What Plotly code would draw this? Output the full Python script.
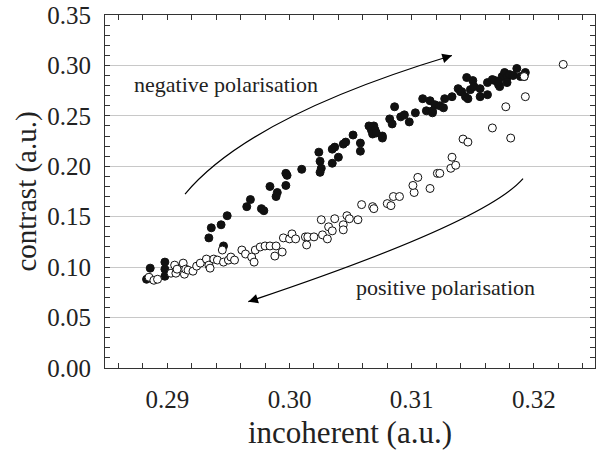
import plotly.graph_objects as go

# negative polarisation (filled circles)
neg_x = [0.2883, 0.2886, 0.2898, 0.2898, 0.2898, 0.2934, 0.2936, 0.2944, 0.2946, 0.2949,
         0.2965, 0.2968, 0.2977, 0.2979, 0.2984, 0.2990, 0.2989, 0.2997, 0.2998, 0.2997,
         0.3010, 0.3024, 0.3025, 0.3026, 0.3025, 0.3035, 0.3037, 0.3035, 0.3040, 0.3044,
         0.3046, 0.3052, 0.3058, 0.3058, 0.3065, 0.3067, 0.3069, 0.3070, 0.3068, 0.3071,
         0.3076, 0.3076, 0.3082, 0.3084, 0.3086, 0.3091, 0.3094, 0.3098, 0.3103, 0.3109,
         0.3112, 0.3115, 0.3117, 0.3119, 0.3123, 0.3126, 0.3127, 0.3133, 0.3138, 0.3140,
         0.3145, 0.3146, 0.3148, 0.3150, 0.3151, 0.3156, 0.3156, 0.3162, 0.3162, 0.3166,
         0.3168, 0.3171, 0.3172, 0.3174, 0.3176, 0.3178, 0.3180, 0.3183, 0.3186, 0.3189,
         0.3193, 0.3178, 0.3171, 0.3192, 0.3141, 0.3144, 0.3117]
neg_y = [0.088, 0.099, 0.105, 0.098, 0.091, 0.129, 0.139, 0.142, 0.121, 0.151,
         0.160, 0.167, 0.158, 0.156, 0.180, 0.174, 0.170, 0.193, 0.191, 0.181,
         0.197, 0.214, 0.205, 0.198, 0.194, 0.217, 0.219, 0.203, 0.209, 0.222,
         0.224, 0.231, 0.223, 0.215, 0.240, 0.236, 0.240, 0.236, 0.232, 0.233,
         0.230, 0.228, 0.247, 0.242, 0.259, 0.249, 0.251, 0.244, 0.253, 0.267,
         0.255, 0.265, 0.253, 0.261, 0.260, 0.258, 0.267, 0.269, 0.277, 0.274,
         0.288, 0.267, 0.276, 0.285, 0.279, 0.277, 0.269, 0.271, 0.283, 0.286,
         0.285, 0.281, 0.279, 0.289, 0.293, 0.288, 0.291, 0.290, 0.297, 0.289,
         0.293, 0.283, 0.284, 0.289, 0.274, 0.269, 0.255]

# positive polarisation (open circles)
pos_x = [0.2885, 0.2889, 0.2892, 0.2903, 0.2906, 0.2907, 0.2908, 0.2913, 0.2914, 0.2915,
         0.2917, 0.2921, 0.2924, 0.2927, 0.2932, 0.2934, 0.2935, 0.2938, 0.2941, 0.2945,
         0.2946, 0.2950, 0.2952, 0.2955, 0.2961, 0.2964, 0.2969, 0.2971, 0.2972, 0.2976,
         0.2980, 0.2984, 0.2989, 0.2988, 0.2994, 0.2995, 0.3000, 0.3002, 0.3005, 0.3013,
         0.3014, 0.3015, 0.3020, 0.3026, 0.3027, 0.3031, 0.3032, 0.3035, 0.3037, 0.3044,
         0.3044, 0.3047, 0.3049, 0.3056, 0.3059, 0.3068, 0.3069, 0.3080, 0.3083, 0.3085,
         0.3090, 0.3102, 0.3101, 0.3105, 0.3115, 0.3121, 0.3123, 0.3132, 0.3133, 0.3136,
         0.3142, 0.3146, 0.3166, 0.3177, 0.3181, 0.3193, 0.3192, 0.3224]
pos_y = [0.090, 0.087, 0.088, 0.094, 0.102, 0.094, 0.098, 0.104, 0.093, 0.098,
         0.097, 0.096, 0.101, 0.104, 0.108, 0.102, 0.099, 0.108, 0.107, 0.117,
         0.105, 0.107, 0.110, 0.107, 0.117, 0.113, 0.110, 0.105, 0.117, 0.120,
         0.121, 0.121, 0.121, 0.111, 0.115, 0.129, 0.128, 0.133, 0.128, 0.130,
         0.122, 0.130, 0.130, 0.147, 0.132, 0.128, 0.140, 0.136, 0.148, 0.142,
         0.137, 0.151, 0.148, 0.147, 0.162, 0.160, 0.158, 0.163, 0.161, 0.170,
         0.170, 0.174, 0.181, 0.189, 0.178, 0.193, 0.193, 0.198, 0.209, 0.201,
         0.227, 0.224, 0.238, 0.259, 0.228, 0.269, 0.289, 0.301]

x_ticks = [0.29, 0.30, 0.31, 0.32]
x_labels = ["0.29", "0.30", "0.31", "0.32"]
y_ticks = [0.00, 0.05, 0.10, 0.15, 0.20, 0.25, 0.30, 0.35]
y_labels = ["0.00", "0.05", "0.10", "0.15", "0.20", "0.25", "0.30", "0.35"]

FONT = "Liberation Serif"

fig = go.Figure()
fig.add_trace(go.Scatter(x=neg_x, y=neg_y, mode="markers",
                         marker=dict(symbol="circle", size=8, color="#111111",
                                     line=dict(color="#111111", width=1)),
                         showlegend=False))
fig.add_trace(go.Scatter(x=pos_x, y=pos_y, mode="markers",
                         marker=dict(symbol="circle", size=8, color="white",
                                     line=dict(color="#111111", width=1)),
                         showlegend=False))

# curved arrow shafts
fig.add_shape(type="path", xref="x", yref="y",
              path="M 0.29145,0.1725 Q 0.29676,0.2496 0.31329,0.3098",
              line=dict(color="black", width=1.2))
fig.add_shape(type="path", xref="x", yref="y",
              path="M 0.31911,0.1877 Q 0.31596,0.1440 0.29663,0.0658",
              line=dict(color="black", width=1.2))

# arrow heads
fig.add_annotation(x=0.31329, y=0.3098, xref="x", yref="y", ax=-10, ay=3,
                   axref="pixel", ayref="pixel", text="", showarrow=True,
                   arrowhead=2, arrowsize=1.6, arrowwidth=1.2, arrowcolor="black")
fig.add_annotation(x=0.29663, y=0.0658, xref="x", yref="y", ax=9.5, ay=-3,
                   axref="pixel", ayref="pixel", text="", showarrow=True,
                   arrowhead=2, arrowsize=1.6, arrowwidth=1.2, arrowcolor="black")

# labels
fig.add_annotation(x=0.29478, y=0.281, xref="x", yref="y", text="negative polarisation",
                   showarrow=False, font=dict(family=FONT, size=22, color="#222222"))
fig.add_annotation(x=0.31274, y=0.0794, xref="x", yref="y", text="positive polarisation",
                   showarrow=False, font=dict(family=FONT, size=22, color="#222222"))

fig.update_xaxes(range=[0.2849, 0.325], tickvals=x_ticks, ticktext=x_labels,
                 ticks="inside", ticklen=5, tickcolor="#333333",
                 minor=dict(dtick=0.002, tick0=0.28, ticks="inside", ticklen=5, tickcolor="#333333"),
                 showline=True, linecolor="#333333", linewidth=1, mirror="ticks",
                 showgrid=False, zeroline=False, ticklabelstandoff=9, automargin=False,
                 tickfont=dict(family=FONT, size=25, color="#222222"),
                 title=dict(text="incoherent (a.u.)", standoff=9,
                            font=dict(family=FONT, size=31, color="#222222")))
fig.update_yaxes(range=[0, 0.35], tickvals=y_ticks, ticktext=y_labels,
                 ticks="inside", ticklen=5, tickcolor="#333333",
                 minor=dict(dtick=0.01, tick0=0, ticks="inside", ticklen=5, tickcolor="#333333"),
                 showline=True, linecolor="#333333", linewidth=1, mirror="ticks",
                 showgrid=True, gridcolor="#c8c8c8", gridwidth=1, zeroline=False,
                 ticklabelstandoff=8, automargin=False,
                 tickfont=dict(family=FONT, size=25, color="#222222"),
                 title=dict(text="contrast (a.u.)", standoff=2,
                            font=dict(family=FONT, size=29, color="#222222")))

fig.update_layout(width=601, height=453, plot_bgcolor="white", paper_bgcolor="white",
                  margin=dict(l=105, r=6, t=15, b=85), showlegend=False)

fig.write_html("out.html", config={"displayModeBar": False},
               post_script="document.body.style.margin='0';")
